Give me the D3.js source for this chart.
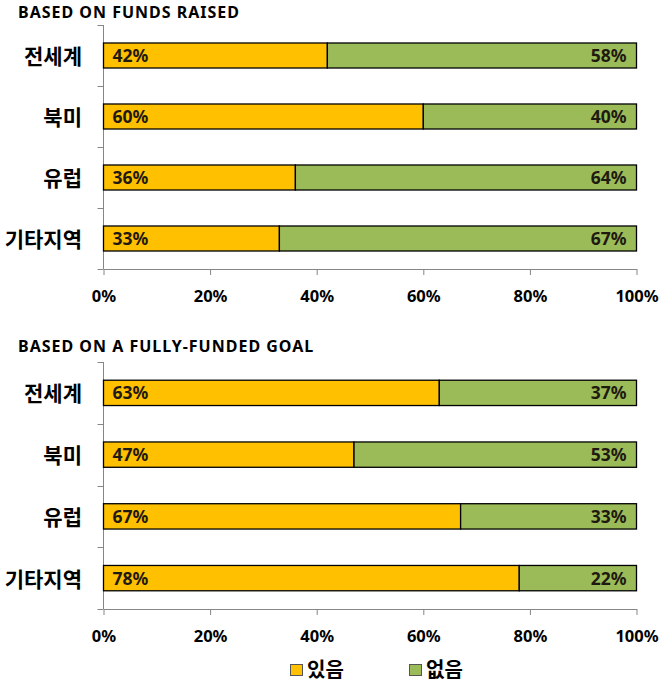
<!DOCTYPE html>
<html><head><meta charset="utf-8">
<script src="https://cdn.jsdelivr.net/npm/d3@7"></script>
<style>body{margin:0;background:#fff}svg{display:block}</style>
</head><body>
<script>
const categories = ["전세계","북미","유럽","기타지역"];
const fundsYes = [42,60,36,33];
const fundsNo  = [58,40,64,67];
const goalYes  = [63,47,67,78];
const goalNo   = [37,53,33,22];
const xTicks = [0,20,40,60,80,100];
const legendLabels = ["있음","없음"];
const titles = ["BASED ON FUNDS RAISED","BASED ON A FULLY-FUNDED GOAL"];

const W=662,H=683;
const colors=["#FFC000","#9BBB59"];
const latin="'Noto Sans', 'DejaVu Sans', sans-serif";
const kr="'Noto Sans CJK KR', sans-serif";
const svg=d3.select("body").append("svg").attr("width",W).attr("height",H);
const x=d3.scaleLinear().domain([0,100]).range([103.5,636.5]);

function panel(title,yes,no,top,bottom,titleY,tickY){
  const g=svg.append("g");
  g.append("text").attr("x",18).attr("y",titleY).text(title)
   .attr("font-family",latin).attr("font-weight","bold").attr("font-size",16)
   .attr("letter-spacing",1).attr("fill","#000");
  const y=d3.scaleBand().domain(categories).range([top,bottom]).paddingInner(0.59).paddingOuter(0.295);
  const step=y.step();
  g.append("line").attr("x1",x(0)).attr("x2",x(0)).attr("y1",top).attr("y2",bottom).attr("stroke","#868686");
  for(let i=0;i<=categories.length;i++){
    const yy=Math.round(top+i*step)+0.5;
    g.append("line").attr("x1",x(0)-6).attr("x2",x(0)).attr("y1",yy).attr("y2",yy).attr("stroke","#868686");
  }
  const ax=g.append("g").attr("transform",`translate(0,${bottom})`)
    .call(d3.axisBottom(x).tickValues(xTicks).tickSize(6).tickSizeOuter(0).tickFormat(d=>d+"%"));
  ax.select(".domain").attr("stroke","#868686");
  ax.selectAll(".tick line").attr("stroke","#868686");
  ax.selectAll(".tick text").attr("font-family",latin).attr("font-weight","bold").attr("font-size",16.5)
    .attr("fill","#000").attr("y",null).attr("dy",null).attr("transform",`translate(0,${tickY-bottom})`);
  const data=categories.map((c,i)=>({c,yes:yes[i],no:no[i]}));
  const rows=g.selectAll(".row").data(data).join("g");
  rows.append("rect").attr("x",x(0)).attr("y",d=>y(d.c)).attr("width",d=>x(d.yes)-x(0)).attr("height",y.bandwidth())
    .attr("fill",colors[0]).attr("stroke","#000").attr("stroke-width",1.3);
  rows.append("rect").attr("x",d=>x(d.yes)).attr("y",d=>y(d.c)).attr("width",d=>x(100)-x(d.yes)).attr("height",y.bandwidth())
    .attr("fill",colors[1]).attr("stroke","#000").attr("stroke-width",1.3);
  rows.append("text").attr("x",x(0)+9).attr("y",d=>y(d.c)+y.bandwidth()/2+6.5).text(d=>d.yes+"%")
    .attr("font-family",latin).attr("font-weight","bold").attr("font-size",17.5).attr("fill","#1f1a10");
  rows.append("text").attr("x",x(100)-10).attr("y",d=>y(d.c)+y.bandwidth()/2+6.5).attr("text-anchor","end").text(d=>d.no+"%")
    .attr("font-family",latin).attr("font-weight","bold").attr("font-size",17.5).attr("fill","#1f1a10");
  rows.append("text").attr("x",82).attr("y",d=>y(d.c)+y.bandwidth()/2+8.5).attr("text-anchor","end").text(d=>d.c)
    .attr("font-family",kr).attr("font-weight","bold").attr("font-size",21).attr("fill","#000");
}
panel(titles[0],fundsYes,fundsNo,25,269,17.5,302);
panel(titles[1],goalYes,goalNo,362,609,352,642);

const lx=[290,409];
legendLabels.forEach((t,i)=>{
  svg.append("rect").attr("x",lx[i]+0.5).attr("y",664.5).attr("width",12).attr("height",11)
    .attr("fill",colors[i]).attr("stroke","#555").attr("stroke-width",1);
  svg.append("text").attr("x",lx[i]+17).attr("y",677).text(t)
    .attr("font-family",kr).attr("font-weight","bold").attr("font-size",20).attr("fill","#000");
});
</script>
</body></html>
